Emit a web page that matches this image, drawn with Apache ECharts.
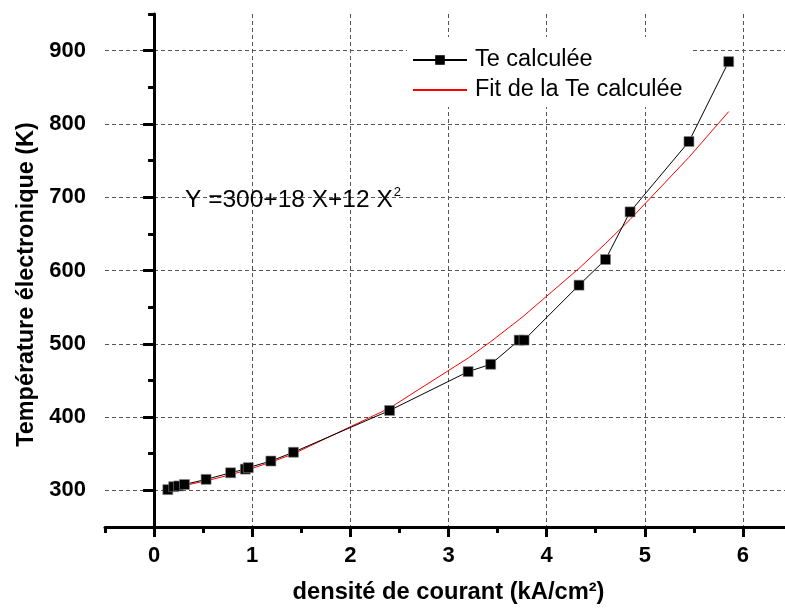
<!DOCTYPE html>
<html>
<head>
<meta charset="utf-8">
<script src="https://cdn.jsdelivr.net/npm/echarts@6/dist/echarts.min.js"></script>
<style>
  html, body { margin: 0; padding: 0; background: #fff; overflow: hidden; }
  /* the plot runs past the right edge of the window, so the canvas is a little wider */
  #chart { width: 800px; height: 609px; }
</style>
</head>
<body>
<div id="chart"></div>
<script>
// Current density (kA/cm²) and computed electron temperature (K)
const currentDensity = [0.14, 0.20, 0.25, 0.31, 0.53, 0.78, 0.93, 0.96, 1.19, 1.42,
                        2.40, 3.20, 3.43, 3.72, 3.77, 4.33, 4.60, 4.85, 5.45, 5.855];
const teCalculated   = [301, 305, 306, 308, 315, 324, 329, 331, 340, 352,
                        409, 462, 472, 505, 505, 580, 615, 680, 776, 885];
// Fitted temperature, Y = 300 + 18 X + 12 X², at the same densities
const teFit          = [302.8, 304.1, 305.3, 306.7, 312.9, 321.3, 327.1, 328.3, 338.4, 349.8,
                        412.3, 480.5, 502.9, 533.0, 538.4, 602.9, 636.7, 669.6, 754.5, 816.8];

const xMajorTicks = [0, 1, 2, 3, 4, 5, 6];
const yMajorTicks = [300, 400, 500, 600, 700, 800, 900];

const seriesNames = ['Te calculée', 'Fit de la Te calculée'];
const xAxisTitle = 'densité de courant (kA/cm²)';
const yAxisTitle = 'Température électronique (K)';
const fitEquation = 'Y =300+18 X+12 X';

const FONT = '"Liberation Sans", Arial, Helvetica, sans-serif';

const measured = currentDensity.map((x, i) => [x, teCalculated[i]]);
const fitted = currentDensity.map((x, i) => [x, teFit[i]]);

const axisColor = '#000';
const gridLineStyle = { type: [4, 3], color: '#555', width: 1 };

const chart = echarts.init(document.getElementById('chart'), null, { renderer: 'canvas' });

chart.setOption({
  animation: false,
  backgroundColor: '#fff',
  grid: { left: 105, top: 14, width: 687, height: 513, outerBoundsMode: 'none' },
  legend: {
    orient: 'vertical',
    left: 407,
    top: 37,
    padding: [11, 8, 5, 5],
    itemGap: 6,
    itemWidth: 54,
    itemHeight: 12,
    backgroundColor: '#fff',
    data: [
      { name: seriesNames[0], itemStyle: { borderWidth: 0, color: '#000' } },
      { name: seriesNames[1], itemStyle: { opacity: 0 } }
    ],
    textStyle: { fontFamily: FONT, fontSize: 23.5, color: '#000', lineHeight: 24, padding: [0, 0, 0, 3] }
  },
  xAxis: [
    {
      // minor ticks every 0.5, carries the data
      type: 'value', min: -0.5, max: 6.5, interval: 0.5, position: 'bottom',
      axisLine: { show: true, lineStyle: { color: axisColor, width: 3 } },
      axisTick: { show: true, length: 6, lineStyle: { color: axisColor, width: 3 } },
      axisLabel: { show: false },
      splitLine: { show: false }
    },
    {
      // major ticks, labels, grid and title
      type: 'value', min: -0.5, max: 6.5, position: 'bottom',
      axisLine: { show: false },
      axisTick: { show: true, customValues: xMajorTicks, length: 10, lineStyle: { color: axisColor, width: 3 } },
      axisLabel: {
        customValues: xMajorTicks, margin: 18,
        fontFamily: FONT, fontSize: 22, fontWeight: 'bold', color: '#000'
      },
      splitLine: { show: true, lineStyle: gridLineStyle },
      name: xAxisTitle, nameLocation: 'middle', nameGap: 53,
      nameTextStyle: { fontFamily: FONT, fontSize: 23.7, fontWeight: 'bold', color: '#000' }
    }
  ],
  yAxis: [
    {
      type: 'value', min: 250, max: 950, interval: 50, position: 'left',
      axisLine: { show: true, lineStyle: { color: axisColor, width: 3 } },
      axisTick: { show: true, length: 6, lineStyle: { color: axisColor, width: 3 } },
      axisLabel: { show: false },
      splitLine: { show: false }
    },
    {
      type: 'value', min: 250, max: 950, position: 'left',
      axisLine: { show: false },
      axisTick: { show: true, customValues: yMajorTicks, length: 11, lineStyle: { color: axisColor, width: 3 } },
      axisLabel: {
        customValues: yMajorTicks, margin: 19,
        fontFamily: FONT, fontSize: 22, fontWeight: 'bold', color: '#000'
      },
      splitLine: { show: true, lineStyle: gridLineStyle },
      name: yAxisTitle, nameLocation: 'middle', nameGap: 66, nameRotate: 90,
      nameTextStyle: {
        fontFamily: FONT, fontSize: 23.4, fontWeight: 'bold', color: '#000',
        padding: [0, 28, 0, 0]
      }
    }
  ],
  graphic: [
    {
      type: 'text', left: 185, top: 186, z: 10,
      style: {
        text: '{a|' + fitEquation + '}{s|2}',
        rich: {
          a: { fontFamily: FONT, fontSize: 24.5, color: '#000', lineHeight: 28 },
          s: { fontFamily: FONT, fontSize: 13, color: '#000', verticalAlign: 'top', lineHeight: 28, padding: [0, 0, 12, 1] }
        }
      }
    }
  ],
  series: [
    {
      name: seriesNames[1], type: 'line', xAxisIndex: 0, yAxisIndex: 0,
      data: fitted, symbol: 'none', z: 2,
      lineStyle: { color: '#ff0000', width: 1 },
      itemStyle: { color: '#ff0000' }
    },
    {
      name: seriesNames[0], type: 'line', xAxisIndex: 0, yAxisIndex: 0,
      data: measured, symbol: 'rect', symbolSize: 10, showAllSymbol: true, z: 3,
      lineStyle: { color: '#000', width: 1 },
      itemStyle: { color: '#000', borderColor: '#888', borderWidth: 0.6 }
    }
  ]
});
</script>
</body>
</html>
